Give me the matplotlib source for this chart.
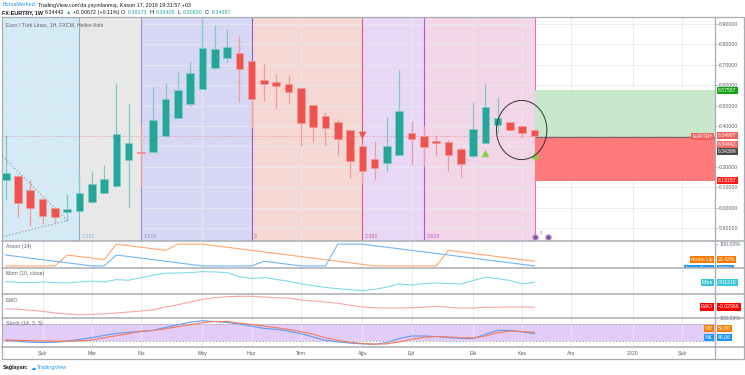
import matplotlib
matplotlib.use('Agg')
import matplotlib.pyplot as plt
from matplotlib.patches import Rectangle, Ellipse
from matplotlib.lines import Line2D
from matplotlib.transforms import Bbox, TransformedBbox

plt.rcParams['font.family'] = ['Liberation Sans', 'DejaVu Sans']

W, H = 745, 375

# haftalik Heikin Ashi mumlar (14 Ocak 2019 - 11 Kasim 2019)
opens = [6.136, 6.153, 6.086, 6.043, 6.000, 5.977, 5.985, 6.028, 6.071, 6.107,
         6.232, 6.274, 6.271, 6.350, 6.440, 6.506, 6.583, 6.682, 6.731, 6.759,
         6.716, 6.624, 6.616, 6.604, 6.585, 6.501, 6.448, 6.419, 6.378, 6.304,
         6.240, 6.219, 6.260, 6.366, 6.350, 6.324, 6.320, 6.288, 6.251, 6.317,
         6.404, 6.419, 6.399, 6.382]
highs = [6.358, 6.160, 6.133, 6.045, 6.003, 6.067, 6.158, 6.179, 6.209, 6.609,
         6.506, 6.407, 6.593, 6.609, 6.665, 6.716, 6.990, 6.895, 6.875, 6.846,
         6.720, 6.703, 6.654, 6.651, 6.587, 6.503, 6.468, 6.435, 6.380, 6.310,
         6.324, 6.443, 6.673, 6.424, 6.402, 6.358, 6.333, 6.290, 6.517, 6.604,
         6.542, 6.421, 6.400, 6.384]
lows = [6.035, 5.953, 5.910, 5.920, 5.923, 5.936, 5.980, 6.020, 6.070, 6.100,
        6.000, 6.099, 6.270, 6.350, 6.440, 6.500, 6.580, 6.680, 6.711, 6.517,
        6.391, 6.522, 6.485, 6.509, 6.301, 6.320, 6.309, 6.260, 6.145, 6.117,
        6.136, 6.172, 6.258, 6.210, 6.202, 6.255, 6.181, 6.148, 6.249, 6.315,
        6.366, 6.378, 6.342, 6.348]
closes = [6.169, 6.022, 6.000, 5.959, 5.953, 5.995, 6.071, 6.115, 6.141, 6.360,
          6.317, 6.266, 6.430, 6.531, 6.575, 6.659, 6.780, 6.775, 6.788, 6.677,
          6.531, 6.604, 6.596, 6.567, 6.416, 6.396, 6.391, 6.337, 6.227, 6.177,
          6.194, 6.304, 6.473, 6.337, 6.296, 6.317, 6.256, 6.215, 6.383, 6.493,
          6.440, 6.379, 6.366, 6.350]

aroon_up = [0, 0, 0, 0, 0, 50, 42.86, 35.71, 28.57, 100, 92.86, 85.71, 78.57, 71.43,
            100, 100, 100, 92.86, 85.71, 78.57, 71.43, 64.29, 57.14, 50, 42.86, 35.71,
            28.57, 21.43, 14.29, 7.14, 0, 0, 0, 0, 0, 0, 71.43, 64.29, 57.14, 50,
            42.86, 35.71, 28.57, 21.43]
aroon_down = [50, 42.86, 35.71, 28.57, 21.43, 14.29, 7.14, 0, 0, 50, 42.86, 35.71,
              28.57, 21.43, 14.29, 7.14, 0, 0, 0, 0, 0, 21.43, 14.29, 7.14, 0, 0, 0,
              100, 100, 100, 92.86, 85.71, 78.57, 71.43, 64.29, 57.14, 50, 42.86,
              35.71, 28.57, 21.43, 14.29, 7.14, 0]
mom = [0.05, 0.01, -0.01, 0.03, -0.01, -0.03, 0.03, 0.07, 0.03, 0.17, 0.13, 0.29,
       0.43, 0.55, 0.57, 0.59, 0.65, 0.63, 0.59, 0.35, 0.23, 0.29, 0.18, 0.07, -0.09,
       -0.20, -0.30, -0.38, -0.44, -0.50, -0.42, -0.28, -0.09, -0.16, -0.07, -0.03,
       -0.07, -0.09, 0.11, 0.31, 0.23, 0.11, -0.09, 0.013]
ewo = [-0.10, -0.12, -0.16, -0.20, -0.27, -0.31, -0.34, -0.32, -0.30, -0.27, -0.23,
       -0.19, -0.14, -0.03, 0.06, 0.17, 0.28, 0.34, 0.38, 0.40, 0.40, 0.37, 0.34,
       0.33, 0.25, 0.21, 0.17, 0.12, 0.04, -0.03, -0.06, -0.07, -0.07, -0.06, -0.04,
       0.00, -0.04, -0.07, -0.07, -0.04, -0.04, -0.03, -0.03, -0.03]
stoch_k = [22, 20, 16.5, 15.3, 16.5, 20, 26, 32, 40, 47, 50.5, 54, 57.4, 67.5, 76.7,
           85.8, 90.4, 88, 84.7, 79, 72, 64, 61, 55, 46, 34.7, 23, 17.6, 13.6, 10.8,
           9.7, 15.3, 29, 38, 38, 36, 32.4, 30, 29, 43.7, 57.4, 57.4, 52, 46.06]
stoch_d = [24.4, 23, 22, 21, 20, 20, 21, 24, 32, 39, 46, 54, 57, 63, 70, 77, 83.5,
           88, 88, 82, 78, 72, 66.5, 61, 53, 44, 32, 23, 16.5, 12, 9.7, 10.8, 17.6,
           26.7, 33.5, 36, 34.7, 32.4, 31, 38, 49.4, 55, 53, 50.8]

month_pos = [3, 7, 11, 16, 20, 24, 29, 33, 38, 42, 46, 51, 55]
month_labels = ['Şub', 'Mar', 'Nis', 'May', 'Haz', 'Tem', 'Ağu', 'Eyl', 'Eki',
                'Kas', 'Ara', '2020', 'Şub']

# Fibonacci zaman bolgeleri
fib_levels = ['1', '1.382', '1.618', '2', '2.382', '2.618', '3']
fib_bars = [-2.65, 6, 11, 20, 29, 34, 43]
fib_fill = ['#d4eaf5', '#e8e8e8', '#d7d7f5', '#f5d8d3', '#e8d7f5', '#f3d5e8']
fib_line = ['#8fb3cf', '#8fb3cf', '#9494c8', '#8a63c2', '#d0608a', '#b05cc8', '#e070b0']

# pozisyon kutusu
entry_price, target_price, stop_price = 6.34399, 6.57557, 6.13157
last_price = 6.34987

trend_x = [-0.25, 5]
trend_upper = [6.251, 5.936]
trend_lower = [5.857, 5.936]

sell_marks = ([29], [6.357])
buy_marks = ([39, 43], [6.265, 6.257])

XMIN, XMAX = -0.3, 57.67
x = list(range(len(closes)))

GREEN, RED = '#26a69a', '#ef5350'
GRID = '#e6e9ef'
LINE = '#a9acb5'
TXT = '#5d606b'

fig = plt.figure(figsize=(W / 100, H / 100), dpi=100)
fig.patch.set_facecolor('white')


def px_axes(x0, y0, x1, y1):
    return fig.add_axes([x0 / W, 1 - y1 / H, (x1 - x0) / W, (y1 - y0) / H])


ax = px_axes(2, 17, 715, 241)
ax_ar = px_axes(2, 241, 715, 268)
ax_mom = px_axes(2, 268, 715, 294)
ax_ewo = px_axes(2, 294, 715, 318)
ax_st = px_axes(2, 318, 715, 347)
panes = [ax, ax_ar, ax_mom, ax_ewo, ax_st]

for a in panes:
    a.set_xlim(XMIN, XMAX)
    for s in a.spines.values():
        s.set_visible(False)
    a.set_xticks(month_pos)
    a.tick_params(axis='x', length=0, labelbottom=False)
    a.grid(axis='x', color=GRID, lw=0.6)
    a.set_axisbelow(True)
    a.yaxis.tick_right()
    a.tick_params(axis='y', length=2, width=0.5, color=LINE, labelsize=3.8,
                  labelcolor=TXT, pad=1)
    a.set_yticks([])

# ---- ana grafik ----
ax.set_ylim(5.836, 6.934)
prices = [5.9 + 0.1 * i for i in range(11)]
ax.set_yticks(prices)
# 6.30000 etiketi fiyat rozetlerinin altinda kaliyor
ax.set_yticklabels(['' if abs(p - 6.3) < 1e-6 else f'{p:.5f}' for p in prices])
ax.grid(axis='y', color=GRID, lw=0.6)

for i in range(len(fib_fill)):
    ax.axvspan(fib_bars[i], fib_bars[i + 1], color=fib_fill[i], zorder=0, lw=0)
for i in range(1, len(fib_bars)):
    ax.axvline(fib_bars[i], color=fib_line[i], lw=0.8, zorder=1)
    if fib_levels[i] != '3':
        ax.text(fib_bars[i] + 0.2, 5.845, fib_levels[i], color=fib_line[i],
                fontsize=3.8, va='bottom', ha='left')

ax.plot(trend_x, trend_upper, ls=(0, (1, 2)), color='#8a8d96', lw=0.8, zorder=2)
ax.plot(trend_x, trend_lower, ls=(0, (1, 2)), color='#8a8d96', lw=0.8, zorder=2)

ax.axhline(last_price, color=RED, ls=(0, (1, 1.5)), lw=0.7, alpha=0.5, zorder=2)

for i in x:
    o, h, l, c = opens[i], highs[i], lows[i], closes[i]
    col = GREEN if c >= o else RED
    wick = '#7fcbc3' if c >= o else '#f49a98'
    ax.vlines(i, l, h, color=wick, lw=0.9, zorder=3)
    ax.bar(i, max(abs(c - o), 0.005), bottom=min(o, c), width=0.62, color=col,
           edgecolor=wick, lw=0.5, zorder=4)

# long pozisyon
ax.add_patch(Rectangle((x[-1], entry_price), XMAX - x[-1], target_price - entry_price,
                       fc='#c9e7ca', ec='none', zorder=1.5))
ax.add_patch(Rectangle((x[-1], stop_price), XMAX - x[-1], entry_price - stop_price,
                       fc='#ff7a7a', ec='none', zorder=1.5))
ax.hlines(entry_price, x[-1], XMAX, color='#6b6b6b', lw=0.8, zorder=2)

ax.scatter(*sell_marks, marker='v', s=30, color=RED, zorder=5, lw=0)
ax.scatter(*buy_marks, marker='^', s=30, color='#82cf4c', zorder=5, lw=0)

ax.add_patch(Ellipse((41.95, 6.38), 4.1, 0.29, fill=False, ec='#333333', lw=0.7, zorder=6))

ax.scatter([43, 44.1], [5.858, 5.858], s=16, facecolor='#5560b8', edgecolor='#f39ac4',
           lw=0.9, zorder=6, clip_on=False)
ax.text(43.4, 5.868, '2', fontsize=3, color='#5560b8')

ax.text(0.005, 0.975, 'Euro / Türk Lirası, 1H, FXCM, Heikin Ashi', transform=ax.transAxes,
        fontsize=3.8, color=TXT, va='top', ha='left', zorder=7)


def badge(a, y, text, fc, dx=3, dy=0, ha='left', clip=None):
    t = a.annotate(text, xy=(1, y), xycoords=(a.transAxes, a.transData),
                   xytext=(dx, dy), textcoords='offset pixels', ha=ha, va='center',
                   fontsize=3.7, color='white', annotation_clip=False,
                   bbox=dict(boxstyle='square,pad=0.2', fc=fc, ec='none'), zorder=10)
    if clip is not None:
        t.set_clip_on(True)
        t.set_clip_box(clip)
    return t


badge(ax, target_price, f'{target_price:.5f}', '#12a112')
badge(ax, last_price, 'EURTRY', '#ef5f5f', dx=-2, ha='right')
badge(ax, last_price, f'{last_price:.5f}', '#ef5f5f', dy=1)
badge(ax, 6.34442, '6.34442', '#f06a6a', dy=-7)
badge(ax, entry_price, f'{entry_price:.5f}', '#4a4a4a', dy=-14.5)
badge(ax, stop_price, f'{stop_price:.5f}', '#ff1a1a')

# ---- Aroon ----
ax_ar.set_ylim(-9.5, 114.3)
ax_ar.plot(x, aroon_up, color='#ffa76b', lw=0.8)
ax_ar.plot(x, aroon_down, color='#6fb6f5', lw=0.8)
ax_ar.set_yticks([100])
ax_ar.set_yticklabels(['100.00%'])
ar_clip = TransformedBbox(Bbox.from_extents(0, 1 - 268 / H, 1, 1 - 241 / H), fig.transFigure)
badge(ax_ar, 21.43, 'Aroon Up', '#f57c00', dx=-2, dy=2, ha='right', clip=ar_clip)
badge(ax_ar, 21.43, '21.43%', '#f57c00', dy=2, clip=ar_clip)
badge(ax_ar, 0, 'Aroon Down', '#2196f3', dx=-2, dy=-2.5, ha='right', clip=ar_clip)
badge(ax_ar, 0, '0.00%', '#2196f3', dy=-2.5, clip=ar_clip)

# ---- Mom ----
ax_mom.set_ylim(-0.70, 0.87)
ax_mom.plot(x, mom, color='#7fdbe6', lw=0.8)
badge(ax_mom, mom[-1], 'Mom', '#38c6d9', dx=-2, ha='right')
badge(ax_mom, mom[-1], '0.01316', '#38c6d9')

# ---- EWO ----
ax_ewo.set_ylim(-0.47, 0.49)
ax_ewo.plot(x, ewo, color='#f7a3a3', lw=0.8)
badge(ax_ewo, ewo[-1], 'EWO', '#ff0000', dx=-2, ha='right')
badge(ax_ewo, ewo[-1], '−0.02966', '#ff0000')

# ---- Stoch ----
ax_st.set_ylim(0, 100)
ax_st.axhspan(20, 80, color='#e4ccf8', lw=0, zorder=0)
ax_st.axhline(80, color='#9e9ea6', ls=(0, (2, 2)), lw=0.6)
ax_st.axhline(20, color='#9e9ea6', ls=(0, (2, 2)), lw=0.6)
ax_st.plot(x, stoch_k, color='#5a9cf3', lw=0.8)
ax_st.plot(x, stoch_d, color='#f4795a', lw=0.8)
ax_st.set_yticks([99])
ax_st.set_yticklabels(['100.00%'])
badge(ax_st, stoch_d[-1], '%D', '#f57c00', dx=-2, dy=3.5, ha='right')
badge(ax_st, stoch_d[-1], f'{stoch_d[-1]:.2f}', '#f57c00', dy=3.5)
badge(ax_st, stoch_k[-1], '%K', '#2196f3', dx=-2, dy=-3.5, ha='right')
badge(ax_st, stoch_k[-1], f'{stoch_k[-1]:.2f}', '#2196f3', dy=-3.5)
ax_st.tick_params(axis='x', labelbottom=True, labelsize=3.8, labelcolor=TXT, pad=3)
ax_st.set_xticklabels(month_labels)

ax_ar.text(0.005, 0.88, 'Aroon (14)', transform=ax_ar.transAxes, fontsize=3.8, color=TXT, va='top')
ax_mom.text(0.005, 0.88, 'Mom (10, close)', transform=ax_mom.transAxes, fontsize=3.8, color=TXT, va='top')
ax_ewo.text(0.005, 0.85, 'EWO', transform=ax_ewo.transAxes, fontsize=3.8, color=TXT, va='top')
ax_st.text(0.005, 0.88, 'Stoch (14, 3, 3)', transform=ax_st.transAxes, fontsize=3.8, color=TXT,
           va='top', zorder=5)


# cerceve ve panel ayiricilar
def fig_line(xs, ys, **kw):
    fig.add_artist(Line2D([v / W for v in xs], [1 - v / H for v in ys],
                          transform=fig.transFigure, **kw))


fig_line([2, 744, 744, 2, 2], [17, 17, 359, 359, 17], color=LINE, lw=0.9)
for yy in [241, 268, 294, 318, 347]:
    fig_line([2, 744], [yy, yy], color=LINE, lw=1.1)
fig_line([715, 715], [17, 359], color=LINE, lw=0.9)

# baslik: parcalar art arda yaziliyor
renderer = fig.canvas.get_renderer()


def text_row(x0, yp, parts, size=3.9, gap=1.5):
    xp = x0
    for s, col, bold in parts:
        t = fig.text(xp / W, 1 - yp / H, s, va='center', ha='left', fontsize=size,
                     color=col, fontweight='bold' if bold else 'normal')
        xp += t.get_window_extent(renderer).width + gap


DARK = '#131722'
UP = '#26a69a'
text_row(2.5, 5, [('BorsaMerkezi', '#2196f3', False),
                  ("TradingView.com'da yayınlanmış, Kasım 17, 2019 19:31:57 +03", DARK, False)])
text_row(2.5, 12.3, [('FX:EURTRY, 1W', DARK, True), ('6.34442', DARK, False),
                     ('▲', UP, False), ('+0.00672 (+0.11%)', DARK, False),
                     ('O:', DARK, False), ('6.38173', UP, False),
                     ('H:', DARK, False), ('6.39405', UP, False),
                     ('L:', DARK, False), ('6.30830', UP, False),
                     ('C:', DARK, False), ('6.34987', UP, False)])
text_row(3, 368, [('Sağlayan:', DARK, True), ('☁', '#2196f3', False),
                  ('TradingView', '#2196f3', False)], size=4.0)

fig.savefig('out.png', dpi=100)
